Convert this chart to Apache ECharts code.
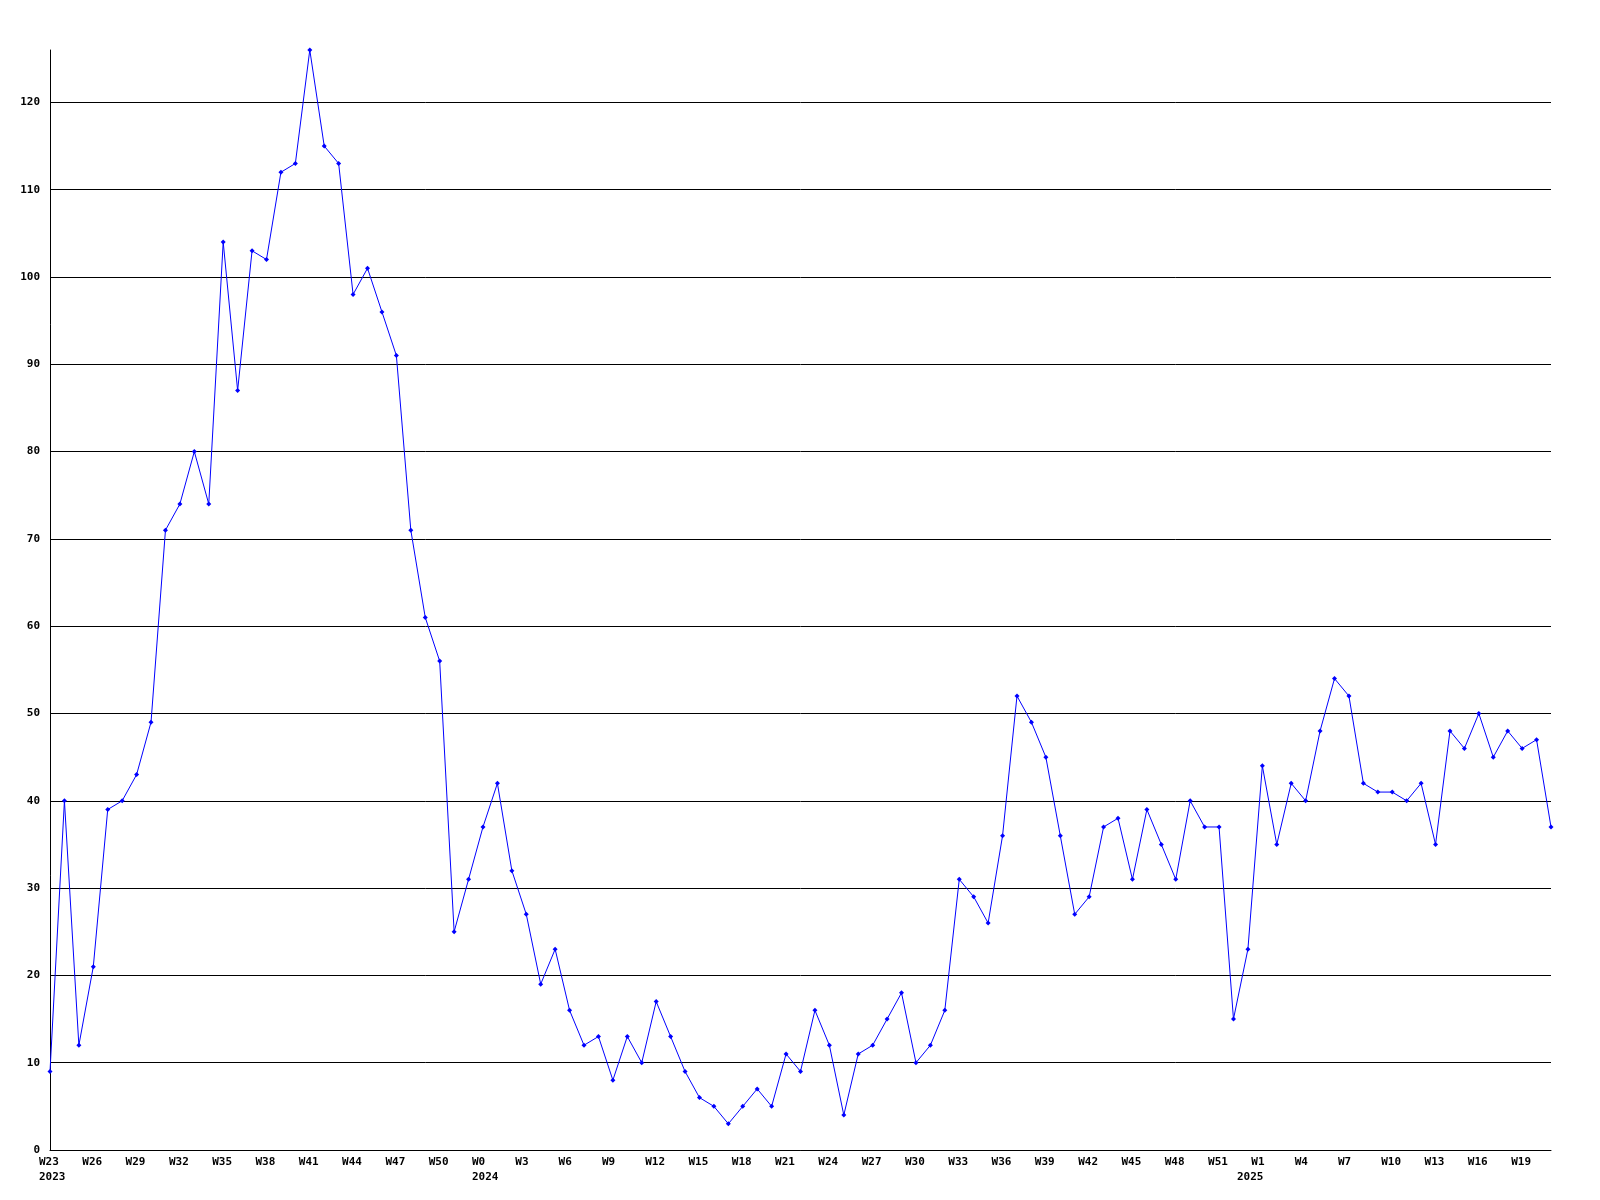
<!DOCTYPE html>
<html>
<head>
<meta charset="utf-8">
<script src="https://cdn.jsdelivr.net/npm/echarts@6/dist/echarts.min.js"></script>
<style>
html,body{margin:0;padding:0;background:#fff;}
#chart{width:1600px;height:1200px;}
</style>
</head>
<body>
<div id="chart"></div>
<script>
// Week ranges: [year, first week, last week]
const weekRanges = [[2023, 23, 52], [2024, 0, 52], [2025, 0, 21]];

// Weekly values, W23 2023 .. W21 2025
const values = [
  9, 40, 12, 21, 39, 40, 43, 49, 71, 74,
  80, 74, 104, 87, 103, 102, 112, 113, 126, 115,
  113, 98, 101, 96, 91, 71, 61, 56, 25, 31,
  37, 42, 32, 27, 19, 23, 16, 12, 13, 8,
  13, 10, 17, 13, 9, 6, 5, 3, 5, 7,
  5, 11, 9, 16, 12, 4, 11, 12, 15, 18,
  10, 12, 16, 31, 29, 26, 36, 52, 49, 45,
  36, 27, 29, 37, 38, 31, 39, 35, 31, 40,
  37, 37, 15, 23, 44, 35, 42, 40, 48, 54,
  52, 42, 41, 41, 40, 42, 35, 48, 46, 50,
  45, 48, 46, 47, 37
];

const yTicks = [0, 10, 20, 30, 40, 50, 60, 70, 80, 90, 100, 110, 120];

// Build category labels: week labels and year labels (year at first week of each year)
const categories = [];
const yearLabels = [];
weekRanges.forEach(([yr, a, b]) => {
  for (let w = a; w <= b; w++) {
    categories.push('W' + w);
    yearLabels.push(w === a ? String(yr) : '');
  }
});

const labelFont = {
  fontFamily: 'DejaVu Sans Mono',
  fontWeight: 'bold',
  fontSize: 11,
  color: '#000'
};

const chart = echarts.init(document.getElementById('chart'), null, {renderer: 'canvas'});
chart.setOption({
  backgroundColor: '#ffffff',
  animation: false,
  grid: [
    {left: 50, right: 49, top: 50, bottom: 50},
    {left: 39, right: 60, top: 50, bottom: 50}
  ],
  xAxis: [
    {
      type: 'category',
      gridIndex: 0,
      data: categories,
      boundaryGap: false,
      axisLine: {show: true, lineStyle: {color: '#000', width: 1}},
      axisTick: {show: false},
      axisLabel: {show: false},
      splitLine: {show: false}
    },
    {
      type: 'category',
      gridIndex: 1,
      data: categories,
      boundaryGap: false,
      axisLine: {show: false},
      axisTick: {show: false},
      splitLine: {show: false},
      axisLabel: Object.assign({
        show: true,
        interval: 2,
        align: 'left',
        verticalAlign: 'top',
        margin: 4.5,
        lineHeight: 15
      }, labelFont)
    },
    {
      type: 'category',
      gridIndex: 1,
      position: 'bottom',
      offset: 0,
      data: yearLabels,
      boundaryGap: false,
      axisLine: {show: false},
      axisTick: {show: false},
      splitLine: {show: false},
      axisLabel: Object.assign({
        show: true,
        interval: 0,
        align: 'left',
        verticalAlign: 'top',
        margin: 19.5,
        lineHeight: 15
      }, labelFont)
    }
  ],
  yAxis: [
    {
      type: 'value',
      gridIndex: 0,
      min: 0,
      max: Math.max(...values),
      interval: 10,
      axisLine: {show: true, lineStyle: {color: '#000', width: 1}},
      axisTick: {show: false},
      axisLabel: Object.assign({
        margin: 10,
        showMaxLabel: false,
        formatter: v => (yTicks.indexOf(v) >= 0 ? String(v) : '')
      }, labelFont),
      splitLine: {show: true, showMaxLine: false, lineStyle: {color: '#000', width: 1}}
    },
    {
      type: 'value',
      gridIndex: 1,
      show: false,
      min: 0,
      max: Math.max(...values)
    }
  ],
  series: [
    {
      type: 'line',
      xAxisIndex: 0,
      yAxisIndex: 0,
      data: values,
      symbol: 'diamond',
      symbolSize: 5,
      showAllSymbol: true,
      lineStyle: {color: '#0000ff', width: 1},
      itemStyle: {color: '#0000ff'},
      emphasis: {disabled: true}
    }
  ]
});
</script>
</body>
</html>
